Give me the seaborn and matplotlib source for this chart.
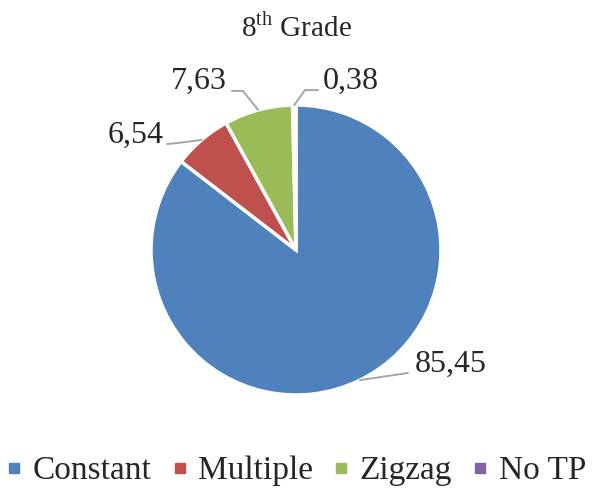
import numpy as np
import matplotlib
matplotlib.use("Agg")
import matplotlib.pyplot as plt
from matplotlib.lines import Line2D
import seaborn as sns

# ---------- DATA ----------
categories = ["Constant", "Multiple", "Zigzag", "No TP"]
values = [85.45, 6.54, 7.63, 0.38]
value_labels = ["85,45", "6,54", "7,63", "0,38"]
title = r"8$^{\mathrm{th}}$ Grade"

# ---------- STYLE ----------
sns.set_style("white")
plt.rcParams["font.family"] = ["Liberation Serif", "DejaVu Serif"]
plt.rcParams["mathtext.fontset"] = "custom"
plt.rcParams["mathtext.rm"] = "Liberation Serif"
colors = sns.color_palette(["#4F81BD", "#C0504D", "#9BBB59", "#8064A2"])

fig = plt.figure(figsize=(5.92, 4.9), dpi=100)
ax = fig.add_axes([151 / 592, 95 / 490, 290 / 592, 290 / 490])

wedges, _ = ax.pie(values, colors=colors, startangle=90, counterclock=False,
                   radius=1, wedgeprops=dict(edgecolor="white", linewidth=2.5))
ax.set_xlim(-1, 1)
ax.set_ylim(-1, 1)
ax.set_aspect("equal")
ax.axis("off")

# leader lines: (elbow, end, text pos, ha)
label_layout = [
    ((0.772, -0.848), (0.772, -0.848), (0.82, -0.79), "left"),
    ((-0.814, 0.738), (-0.89, 0.731), (-0.91, 0.79), "right"),
    ((-0.366, 1.097), (-0.441, 1.097), (-0.475, 1.16), "right"),
    ((0.062, 1.103), (0.152, 1.103), (0.186, 1.16), "left"),
]

for w, lab, (elbow, end, tpos, ha) in zip(wedges, value_labels, label_layout):
    mid = np.deg2rad((w.theta1 + w.theta2) / 2)
    edge = (np.cos(mid), np.sin(mid))
    ax.plot([edge[0], elbow[0], end[0]], [edge[1], elbow[1], end[1]],
            color="#A6A6A6", lw=1.4, clip_on=False, zorder=3)
    ax.text(tpos[0], tpos[1], lab, ha=ha, va="center", fontsize=23, clip_on=False)

fig.text(296 / 592, 1 - 28 / 490, title, ha="center", va="center", fontsize=21)

handles = [Line2D([], [], marker="s", linestyle="none", markersize=7,
                  markerfacecolor=c, markeredgecolor=c) for c in colors]
fig.legend(handles, categories, loc="center", bbox_to_anchor=(0.5, 1 - 471 / 490),
           ncol=4, frameon=False, fontsize=24, handlelength=0.5, handletextpad=0.3,
           columnspacing=0.6, borderpad=0)

fig.savefig("out.png", dpi=100)
